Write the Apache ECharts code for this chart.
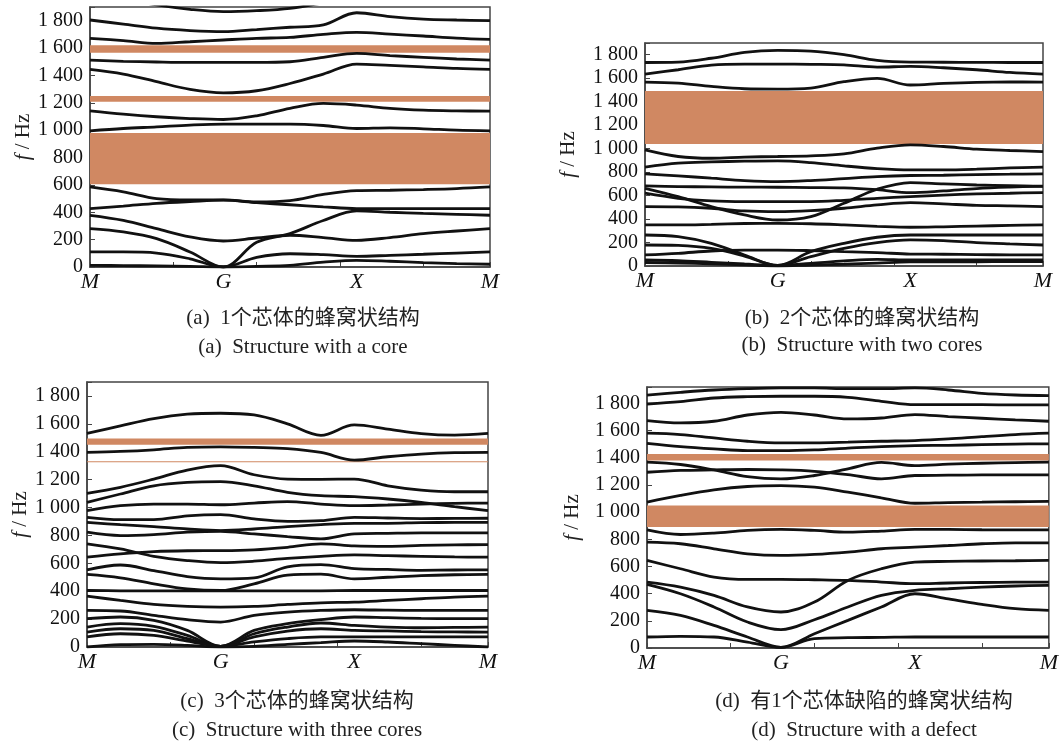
<!DOCTYPE html>
<html>
<head>
<meta charset="utf-8">
<script src="https://cdn.jsdelivr.net/npm/echarts@6.0.0/dist/echarts.min.js"></script>
<style>
html, body { margin: 0; padding: 0; background: #fff; }
#main { width: 1061px; height: 744px; }
</style>
</head>
<body>
<div id="main"></div>
<script>
// 路径上的采样位置 M-G-X-M
var kPath = [0, 0.25, 0.5, 0.75, 1, 1.25, 1.5, 1.75, 2, 2.25, 2.5, 2.75, 3];
var symTicks = ['M', 'G', 'X', 'M'];

// (a) 1个芯体
var gapsA = [[1565, 1620], [1207, 1250], [605, 980]];
var bandsA = [
    [2000, 1960, 1915, 1883, 1866, 1873, 1890, 1930, 1970, 1990, 2000, 2000, 2000],
    [1805, 1775, 1745, 1728, 1720, 1735, 1752, 1770, 1858, 1830, 1812, 1805, 1800],
    [1671, 1654, 1634, 1646, 1659, 1671, 1678, 1700, 1715, 1702, 1688, 1673, 1663],
    [1512, 1503, 1498, 1495, 1495, 1495, 1500, 1532, 1561, 1545, 1532, 1520, 1512],
    [1444, 1410, 1354, 1298, 1273, 1288, 1341, 1410, 1483, 1473, 1463, 1451, 1444],
    [1141, 1117, 1098, 1085, 1078, 1105, 1160, 1195, 1183, 1159, 1146, 1141, 1139],
    [995, 1012, 1024, 1037, 1044, 1044, 1044, 1034, 1012, 1017, 1010, 1000, 995],
    [585, 549, 500, 490, 490, 475, 485, 530, 558, 561, 566, 573, 585],
    [427, 445, 465, 478, 488, 470, 455, 440, 427, 427, 427, 427, 427],
    [378, 341, 280, 220, 190, 212, 232, 215, 195, 215, 244, 263, 280],
    [280, 256, 207, 110, 0, 180, 244, 340, 410, 400, 392, 385, 378],
    [110, 110, 102, 60, 0, 70, 97, 90, 78, 85, 93, 102, 110],
    [12, 10, 8, 5, 0, 5, 12, 35, 49, 42, 32, 24, 20]
];

// (b) 2个芯体
var gapsB = [[1040, 1490]];
var bandsB = [
    [1734, 1737, 1770, 1820, 1837, 1831, 1800, 1752, 1737, 1736, 1735, 1734, 1734],
    [1635, 1672, 1711, 1720, 1720, 1718, 1714, 1695, 1700, 1689, 1672, 1649, 1635],
    [1567, 1558, 1530, 1510, 1507, 1516, 1570, 1598, 1542, 1556, 1565, 1568, 1567],
    [989, 933, 918, 928, 933, 938, 955, 1004, 1032, 1018, 995, 984, 975],
    [842, 876, 887, 893, 896, 881, 853, 830, 819, 819, 825, 836, 842],
    [785, 768, 748, 728, 719, 728, 745, 762, 771, 773, 779, 782, 785],
    [682, 677, 674, 672, 671, 668, 665, 650, 625, 640, 660, 672, 680],
    [662, 591, 506, 435, 392, 421, 535, 654, 711, 700, 690, 684, 678],
    [620, 577, 555, 549, 549, 549, 560, 577, 591, 604, 614, 620, 626],
    [506, 504, 492, 469, 463, 472, 492, 520, 540, 529, 517, 512, 506],
    [350, 350, 355, 362, 364, 360, 350, 338, 330, 334, 340, 346, 350],
    [264, 250, 193, 94, 5, 122, 193, 245, 264, 264, 264, 264, 264],
    [179, 175, 150, 85, 5, 80, 150, 200, 222, 216, 199, 188, 179],
    [94, 108, 128, 136, 136, 131, 122, 114, 102, 100, 97, 95, 94],
    [51, 45, 31, 17, 5, 23, 43, 57, 51, 51, 51, 51, 51],
    [30, 25, 18, 10, 0, 8, 15, 25, 35, 35, 36, 37, 37]
];

// (c) 3个芯体
var gapsC = [[1450, 1495], [1325, 1332]];
var bandsC = [
    [1531, 1586, 1638, 1669, 1676, 1664, 1600, 1518, 1592, 1562, 1530, 1519, 1531],
    [1395, 1402, 1414, 1431, 1435, 1431, 1423, 1395, 1340, 1364, 1383, 1393, 1395],
    [1102, 1145, 1204, 1269, 1300, 1235, 1204, 1202, 1204, 1156, 1125, 1113, 1113],
    [1037, 1097, 1156, 1180, 1185, 1156, 1109, 1085, 1078, 1061, 1037, 1006, 978],
    [978, 1013, 1025, 1025, 1020, 1032, 1042, 1025, 1013, 1018, 1025, 1030, 1032],
    [930, 913, 913, 940, 949, 918, 901, 906, 930, 925, 921, 922, 923],
    [894, 877, 863, 846, 835, 846, 863, 877, 887, 887, 892, 893, 894],
    [823, 799, 806, 823, 830, 811, 792, 775, 811, 815, 818, 818, 818],
    [739, 703, 650, 620, 605, 615, 635, 650, 660, 655, 650, 646, 644],
    [644, 668, 684, 690, 691, 697, 715, 740, 725, 722, 728, 732, 734],
    [553, 588, 548, 505, 489, 496, 575, 590, 562, 556, 550, 552, 553],
    [520, 496, 453, 417, 405, 453, 515, 522, 489, 500, 512, 518, 520],
    [405, 403, 402, 402, 402, 402, 402, 403, 405, 405, 405, 405, 405],
    [365, 334, 305, 291, 286, 291, 305, 317, 322, 334, 346, 358, 365],
    [262, 258, 227, 196, 179, 227, 250, 262, 267, 264, 262, 262, 262],
    [203, 215, 191, 119, 5, 119, 167, 196, 215, 210, 205, 203, 203],
    [143, 167, 148, 83, 5, 95, 143, 172, 155, 143, 138, 140, 143],
    [107, 131, 119, 60, 5, 72, 114, 131, 119, 115, 110, 108, 107],
    [72, 95, 83, 43, 5, 36, 60, 72, 72, 72, 72, 72, 72],
    [0, 17, 19, 12, 0, 5, 19, 31, 43, 36, 24, 12, 0]
];

// (d) 有1个芯体缺陷
var gapsD = [[1380, 1428], [890, 1048]];
var bandsD = [
    [1861, 1881, 1898, 1908, 1913, 1913, 1908, 1908, 1913, 1898, 1873, 1861, 1856],
    [1795, 1812, 1839, 1849, 1852, 1852, 1844, 1815, 1790, 1790, 1790, 1788, 1788],
    [1673, 1656, 1668, 1714, 1734, 1714, 1685, 1692, 1717, 1702, 1690, 1678, 1668],
    [1580, 1570, 1545, 1521, 1509, 1509, 1514, 1521, 1526, 1538, 1555, 1570, 1580],
    [1506, 1482, 1465, 1452, 1452, 1457, 1470, 1482, 1489, 1491, 1496, 1500, 1502],
    [1367, 1350, 1310, 1261, 1244, 1269, 1318, 1365, 1342, 1352, 1359, 1364, 1367],
    [1293, 1306, 1310, 1313, 1310, 1300, 1276, 1244, 1269, 1271, 1274, 1274, 1274],
    [1073, 1122, 1163, 1188, 1195, 1183, 1146, 1105, 1065, 1070, 1073, 1076, 1078],
    [869, 835, 845, 865, 872, 865, 852, 860, 872, 872, 870, 869, 869],
    [779, 767, 730, 693, 681, 688, 705, 730, 742, 754, 767, 774, 774],
    [644, 583, 522, 505, 505, 502, 497, 485, 473, 478, 482, 484, 485],
    [485, 448, 387, 302, 265, 338, 497, 583, 632, 637, 640, 642, 644],
    [468, 399, 302, 191, 135, 208, 302, 387, 424, 436, 448, 456, 461],
    [277, 240, 166, 81, 5, 105, 203, 302, 399, 362, 321, 289, 277],
    [81, 86, 81, 44, 5, 69, 76, 78, 81, 81, 81, 81, 81]
];

var captionsZh = ['(a)  1个芯体的蜂窝状结构', '(b)  2个芯体的蜂窝状结构',
    '(c)  3个芯体的蜂窝状结构', '(d)  有1个芯体缺陷的蜂窝状结构'];
var captionsEn = ['(a)  Structure with a core', '(b)  Structure with two cores',
    '(c)  Structure with three cores', '(d)  Structure with a defect'];

var serif = '"Liberation Serif", "Times New Roman", serif';
var gapColor = '#d08862';
var frameColor = '#444';

var panels = [
    {left: 90, top: 7, width: 400, height: 260, max: 1900, nameGap: 44, bands: bandsA, gaps: gapsA, cap: [303, 318, 347]},
    {left: 645, top: 43, width: 398, height: 223, max: 1900, nameGap: 66, bands: bandsB, gaps: gapsB, cap: [862, 318, 345]},
    {left: 87, top: 382, width: 401, height: 265, max: 1900, nameGap: 48, bands: bandsC, gaps: gapsC, cap: [297, 701, 730]},
    {left: 647, top: 387, width: 406, height: 261, max: 1920, nameGap: 64, bands: bandsD, gaps: gapsD, cap: [864, 701, 730]}
];

function fmtHz(v) {
    if (v % 200) return '';
    if (v >= 1000) {
        var r = String(v % 1000);
        while (r.length < 3) r = '0' + r;
        return Math.floor(v / 1000) + ' ' + r;
    }
    return String(v);
}

var grids = [], xAxes = [], yAxes = [], series = [], graphics = [];

panels.forEach(function (p, i) {
    grids.push({
        left: p.left, top: p.top, width: p.width, height: p.height,
        show: true, borderColor: frameColor, borderWidth: 1.5, backgroundColor: '#fff'
    });
    // 主坐标轴：高对称点标签
    xAxes.push({
        gridIndex: i, type: 'value', min: 0, max: 3, interval: 1,
        axisLine: {lineStyle: {color: frameColor, width: 1.5}},
        axisTick: {show: false},
        splitLine: {show: false},
        axisLabel: {
            formatter: function (v) { return symTicks[Math.round(v)]; },
            fontFamily: serif, fontStyle: 'italic', fontSize: 22, color: '#111', margin: 4,
            showMinLabel: true, showMaxLabel: true
        }
    });
    // 刻度轴
    xAxes.push({
        gridIndex: i, type: 'value', min: 0, max: 3, interval: 0.625, position: 'bottom',
        axisLine: {show: false},
        axisTick: {inside: true, length: 5, lineStyle: {color: frameColor, width: 1}},
        axisLabel: {show: false},
        splitLine: {show: false}
    });
    yAxes.push({
        gridIndex: i, type: 'value', min: 0, max: p.max, interval: 200,
        name: '{it|f} / Hz', nameLocation: 'middle', nameGap: p.nameGap,
        nameTextStyle: {
            fontFamily: serif, fontSize: 21, color: '#222',
            rich: {it: {fontFamily: serif, fontStyle: 'italic', fontSize: 21, color: '#222'}}
        },
        axisLine: {show: true, lineStyle: {color: frameColor, width: 1.5}},
        axisTick: {inside: true, length: 5, lineStyle: {color: frameColor}},
        splitLine: {show: false},
        axisLabel: {formatter: fmtHz, fontFamily: serif, fontSize: 20, color: '#111', margin: 7}
    });
    // 带隙
    series.push({
        type: 'line', xAxisIndex: 2 * i, yAxisIndex: i, data: [], silent: true, z: 1,
        markArea: {
            silent: true,
            itemStyle: {color: gapColor, opacity: 1},
            data: p.gaps.map(function (g) { return [{yAxis: g[0]}, {yAxis: g[1]}]; })
        }
    });
    p.bands.forEach(function (band) {
        series.push({
            type: 'line', xAxisIndex: 2 * i, yAxisIndex: i, z: 3,
            data: kPath.map(function (k, j) { return [k, band[j]]; }),
            smooth: 0.35, symbol: 'none', clip: true, silent: true,
            lineStyle: {color: '#111', width: 2.8}
        });
    });
    graphics.push({
        type: 'text', x: p.cap[0], y: p.cap[1],
        style: {text: captionsZh[i], font: '21px "Liberation Serif", "Noto Sans CJK SC", serif',
            fill: '#222', textAlign: 'center', textVerticalAlign: 'middle', align: 'center', verticalAlign: 'middle'}
    });
    graphics.push({
        type: 'text', x: p.cap[0], y: p.cap[2],
        style: {text: captionsEn[i], font: '21px "Liberation Serif", serif',
            fill: '#222', textAlign: 'center', textVerticalAlign: 'middle', align: 'center', verticalAlign: 'middle'}
    });
});

var chart = echarts.init(document.getElementById('main'));
chart.setOption({
    animation: false,
    backgroundColor: '#fff',
    grid: grids,
    xAxis: xAxes,
    yAxis: yAxes,
    series: series,
    graphic: graphics
});
</script>
</body>
</html>
